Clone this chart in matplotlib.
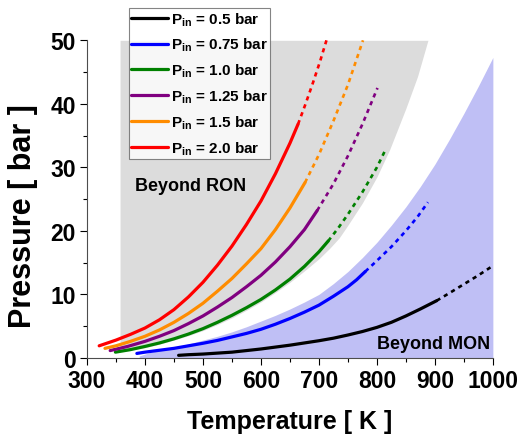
import numpy as np
import matplotlib
matplotlib.use("Agg")
import matplotlib.pyplot as plt

plt.rcParams['font.family'] = ['Liberation Sans', 'DejaVu Sans']
plt.rcParams['font.weight'] = 'bold'
plt.rcParams['mathtext.fontset'] = 'custom'
plt.rcParams['mathtext.rm'] = 'Liberation Sans'

# temperature [K], pressure [bar]
labels = ['0.5', '0.75', '1.0', '1.25', '1.5', '2.0']
colors = ['black', '#0000ff', '#008000', '#800080', '#ff8c00', '#ff0000']

T_solid = [
    [458, 475, 500, 525, 550, 575, 600, 625, 650, 675, 700, 725, 750, 775, 800, 825, 850, 875, 903],
    [386, 400, 425, 450, 475, 500, 525, 550, 575, 600, 625, 650, 675, 700, 725, 750, 765, 780],
    [349, 375, 400, 425, 450, 475, 500, 525, 550, 575, 600, 625, 650, 675, 700, 716],
    [340, 370, 400, 425, 450, 475, 500, 525, 550, 575, 600, 625, 650, 675, 697],
    [331, 350, 375, 400, 425, 450, 475, 500, 525, 550, 575, 600, 625, 650, 676],
    [321, 350, 375, 400, 425, 450, 475, 500, 525, 550, 575, 600, 625, 650, 664],
]
P_solid = [
    [0.4, 0.5, 0.6, 0.75, 0.9, 1.15, 1.4, 1.7, 2.0, 2.35, 2.7, 3.1, 3.6, 4.15, 4.8, 5.6, 6.6, 7.7, 9.0],
    [0.7, 0.9, 1.2, 1.5, 1.9, 2.3, 2.75, 3.3, 3.85, 4.5, 5.3, 6.2, 7.2, 8.3, 9.7, 11.2, 12.3, 13.6],
    [0.9, 1.3, 1.8, 2.35, 3.0, 3.75, 4.6, 5.6, 6.7, 7.9, 9.2, 10.7, 12.4, 14.4, 16.7, 18.4],
    [1.15, 1.8, 2.6, 3.4, 4.3, 5.4, 6.6, 8.0, 9.5, 11.2, 13.0, 15.1, 17.5, 20.2, 23.2],
    [1.5, 1.9, 2.6, 3.4, 4.4, 5.6, 7.0, 8.6, 10.5, 12.5, 14.8, 17.2, 20.2, 23.6, 27.6],
    [1.9, 2.8, 3.7, 4.7, 6.0, 7.6, 9.6, 11.9, 14.6, 17.6, 21.0, 24.7, 29.0, 33.8, 36.8],
]
T_dash = [
    [903, 925, 950, 975, 1000],
    [780, 800, 825, 850, 870, 888],
    [716, 733, 750, 775, 800, 816],
    [697, 725, 750, 775, 801],
    [676, 700, 725, 750, 776],
    [664, 677, 690, 702, 713],
]
P_dash = [
    [9.0, 10.2, 11.6, 13.0, 14.5],
    [13.6, 15.3, 17.5, 20.0, 22.2, 24.5],
    [18.4, 20.4, 22.6, 26.1, 30.0, 33.0],
    [23.2, 27.4, 31.8, 36.8, 42.5],
    [27.6, 32.0, 37.3, 43.0, 50.0],
    [36.8, 40.0, 43.4, 46.7, 50.0],
]

# "Beyond RON" region (above this boundary) and "Beyond MON" region (below)
ron_T = [357, 375, 400, 425, 450, 475, 500, 525, 550, 575, 600, 625, 650, 675, 700,
         719, 735, 750, 775, 800, 822, 850, 870, 888]
ron_P = [1.0, 1.25, 1.6, 2.15, 2.8, 3.5, 4.3, 5.25, 6.3, 7.5, 8.8, 10.3, 11.9, 13.7, 15.6,
         17.3, 18.9, 20.9, 24.4, 28.5, 32.8, 39.3, 44.3, 50.0]
mon_T = [390, 410, 430, 450, 475, 500, 525, 550, 575, 600, 625, 650, 675, 700, 725,
         750, 775, 800, 825, 850, 875, 900, 925, 950, 975, 1000]
mon_P = [0.3, 0.9, 1.25, 1.6, 2.2, 2.8, 3.4, 4.1, 4.9, 5.8, 6.7, 7.7, 8.8, 10.0, 11.7,
         13.6, 15.8, 18.2, 20.9, 23.8, 27.0, 30.5, 34.4, 38.5, 42.8, 47.3]

fig = plt.figure(figsize=(5.21, 4.35), dpi=100)
ax = fig.add_axes([0.167, 0.175, 0.779, 0.730])

ax.fill_between(ron_T, ron_P, 50, color='#dcdcdc', lw=0, zorder=1)
ax.fill_between(mon_T, 0, mon_P, color='#bfbff5', lw=0, zorder=1)

for i in range(len(labels)):
    ax.plot(T_solid[i], P_solid[i], color=colors[i], lw=2.3, zorder=3,
            solid_capstyle='round',
            label=r'P$\mathregular{_{in}}$ = ' + labels[i] + ' bar')
    ax.plot(T_dash[i], P_dash[i], color=colors[i], lw=1.9, zorder=3,
            linestyle=(0, (1.6, 1.6)))

ax.text(383, 27.1, 'Beyond RON', fontsize=13, fontweight='bold', va='center', zorder=4)
ax.text(996, 2.2, 'Beyond MON', fontsize=13, fontweight='bold', va='center',
        ha='right', zorder=4)

ax.set_xlim(300, 1000)
ax.set_ylim(0, 50)
ax.set_xticks(np.arange(300, 1001, 100))
ax.set_xticks(np.arange(300, 1001, 50), minor=True)
ax.set_yticks(np.arange(0, 51, 10))
ax.set_yticks(np.arange(0, 51, 5), minor=True)
ax.tick_params(which='major', direction='out', length=5, width=0.8, labelsize=16.5, pad=3)
ax.tick_params(which='minor', direction='out', length=3, width=0.8)
for s in ['top', 'right']:
    ax.spines[s].set_visible(False)
for s in ['left', 'bottom']:
    ax.spines[s].set_color('0.3')

ax.set_xlabel('Temperature [ K ]', fontsize=18, fontweight='bold', labelpad=12)
ax.set_ylabel('Pressure [ bar ]', fontsize=22, fontweight='bold')
ax.yaxis.set_label_coords(-0.12, 0.45)

leg = ax.legend(loc='upper left', bbox_to_anchor=(0.103, 1.102), borderaxespad=0,
                fontsize=11, frameon=True, fancybox=False, handlelength=2.4,
                handletextpad=0.2, labelspacing=0.55, borderpad=0.15)
leg.get_frame().set_edgecolor('0.4')
leg.get_frame().set_linewidth(0.8)
leg.set_zorder(5)
for t in leg.get_texts():
    t.set_fontweight('bold')

fig.savefig('out.png', dpi=100)
